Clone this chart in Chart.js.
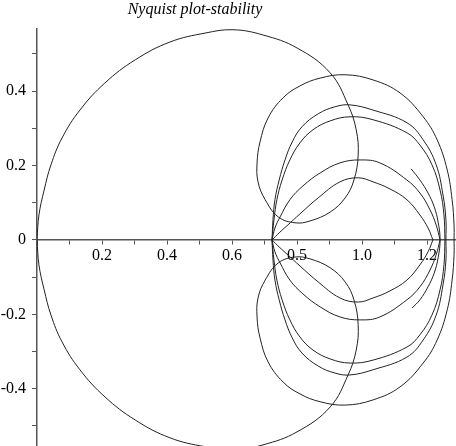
<!DOCTYPE html>
<html>
<head>
<meta charset="utf-8">
<script src="https://cdn.jsdelivr.net/npm/chart.js@4.4.1/dist/chart.umd.min.js"></script>
<style>
  body { margin: 0; background: #fff; }
  canvas { display: block; }
</style>
</head>
<body>
<canvas id="nyquist" width="456" height="446"></canvas>
<script>
const plotTitle = 'Nyquist plot-stability';

// tick labels (the reference prints "0.5" where 0.8 should be)
const xTickValues = [0.2, 0.4, 0.6, 0.8, 1.0, 1.2];
const xTickLabels = ['0.2', '0.4', '0.6', '0.5', '1.0', '1.2'];
const yTickValues = [-0.4, -0.2, 0, 0.2, 0.4];
const yTickLabels = ['-0.4', '-0.2', '0', '0.2', '0.4'];

// big outer loop, runs into the small loop and the outer right circle
const loopX = [0, 0.006, 0.022, 0.043, 0.077, 0.132, 0.209, 0.302, 0.409, 0.517, 0.603, 0.695, 0.800, 0.902, 0.957, 0.982, 0.988, 0.975, 0.948, 0.902, 0.840, 0.794, 0.742, 0.702, 0.680, 0.677, 0.686, 0.711, 0.757, 0.809, 0.871, 0.948, 1.034, 1.117, 1.188, 1.231, 1.262, 1.277, 1.283, 1.283];
const loopUpperY = [0, 0.067, 0.134, 0.202, 0.274, 0.349, 0.422, 0.484, 0.532, 0.556, 0.565, 0.551, 0.516, 0.449, 0.363, 0.296, 0.228, 0.161, 0.113, 0.075, 0.051, 0.046, 0.062, 0.108, 0.156, 0.207, 0.263, 0.328, 0.382, 0.414, 0.435, 0.444, 0.430, 0.395, 0.331, 0.269, 0.188, 0.108, 0.040, 0];
const loopLowerY = [0, -0.067, -0.134, -0.202, -0.274, -0.349, -0.422, -0.484, -0.532, -0.556, -0.565, -0.551, -0.516, -0.449, -0.363, -0.296, -0.228, -0.161, -0.113, -0.075, -0.051, -0.046, -0.062, -0.108, -0.156, -0.207, -0.263, -0.328, -0.382, -0.414, -0.435, -0.444, -0.430, -0.395, -0.331, -0.269, -0.188, -0.108, -0.040, 0];

// second circle
const c2X = [0.723, 0.726, 0.732, 0.745, 0.763, 0.785, 0.815, 0.865, 0.917, 0.963, 1.034, 1.138, 1.188, 1.228, 1.249, 1.258, 1.258];
const c2UpperY = [0, 0.054, 0.108, 0.161, 0.215, 0.263, 0.304, 0.339, 0.358, 0.363, 0.349, 0.315, 0.269, 0.202, 0.121, 0.054, 0];
const c2LowerY = [0, -0.054, -0.108, -0.161, -0.215, -0.263, -0.304, -0.339, -0.358, -0.363, -0.349, -0.315, -0.269, -0.202, -0.121, -0.054, 0];

// third circle
const c3X = [0.723, 0.729, 0.738, 0.754, 0.778, 0.809, 0.849, 0.902, 0.963, 1.034, 1.138, 1.178, 1.215, 1.240, 1.252, 1.255];
const c3UpperY = [0, 0.054, 0.108, 0.161, 0.215, 0.261, 0.296, 0.320, 0.331, 0.323, 0.288, 0.255, 0.202, 0.134, 0.067, 0];
const c3LowerY = [0, -0.054, -0.108, -0.161, -0.215, -0.261, -0.296, -0.320, -0.331, -0.323, -0.288, -0.255, -0.202, -0.134, -0.067, 0];

// flatter arcs
const d1X = [0.723, 0.732, 0.748, 0.778, 0.818, 0.871, 0.932, 0.994, 1.055, 1.138, 1.178, 1.209, 1.228, 1.240];
const d1UpperY = [0, 0.032, 0.062, 0.108, 0.145, 0.180, 0.207, 0.215, 0.207, 0.161, 0.126, 0.081, 0.040, 0];
const d1LowerY = [0, -0.032, -0.062, -0.108, -0.145, -0.180, -0.207, -0.215, -0.207, -0.161, -0.126, -0.081, -0.040, 0];

const d2X = [0.723, 0.745, 0.769, 0.809, 0.865, 0.932, 0.988, 1.034, 1.086, 1.138, 1.178, 1.203, 1.218];
const d2UpperY = [0, 0.019, 0.038, 0.070, 0.113, 0.156, 0.167, 0.156, 0.137, 0.108, 0.067, 0.032, 0];
const d2LowerY = [0, -0.019, -0.038, -0.070, -0.113, -0.156, -0.167, -0.156, -0.137, -0.108, -0.067, -0.032, 0];

// short inner arc near 1.2
const eX = [1.151, 1.178, 1.203, 1.222, 1.234, 1.240, 1.234, 1.222, 1.203, 1.178, 1.154];
const eY = [0.191, 0.161, 0.126, 0.089, 0.048, 0, -0.048, -0.089, -0.126, -0.161, -0.183];

const pts = (xs, ys) => xs.map((x, i) => ({ x: x, y: ys[i] }));

const curves = [
  pts(loopX, loopUpperY), pts(loopX, loopLowerY),
  pts(c2X, c2UpperY), pts(c2X, c2LowerY),
  pts(c3X, c3UpperY), pts(c3X, c3LowerY),
  pts(d1X, d1UpperY), pts(d1X, d1LowerY),
  pts(d2X, d2UpperY), pts(d2X, d2LowerY),
  pts(eX, eY)
];

const fontFamily = '"Liberation Serif", "Times New Roman", serif';
const axisColor = '#555';

const titlePlugin = {
  id: 'plotTitle',
  afterDraw(chart) {
    const ctx = chart.ctx;
    ctx.save();
    ctx.font = 'italic 16px ' + fontFamily;
    ctx.fillStyle = '#000';
    ctx.textAlign = 'center';
    ctx.textBaseline = 'alphabetic';
    ctx.fillText(plotTitle, 195, 14);
    ctx.restore();
  }
};

function labelFor(values, labels, v) {
  const i = values.findIndex(t => Math.abs(t - v) < 1e-6);
  return i < 0 ? '' : labels[i];
}

new Chart(document.getElementById('nyquist').getContext('2d'), {
  type: 'scatter',
  data: {
    datasets: curves.map(c => ({
      data: c,
      showLine: true,
      tension: 0.4,
      borderColor: '#222',
      borderWidth: 1,
      pointRadius: 0,
      pointHoverRadius: 0
    }))
  },
  options: {
    responsive: false,
    devicePixelRatio: 1,
    animation: false,
    layout: { padding: { left: 0, top: 29, right: 0, bottom: 0 } },
    plugins: {
      legend: { display: false },
      tooltip: { enabled: false },
      title: { display: false }
    },
    scales: {
      x: {
        type: 'linear',
        position: { y: 0 },
        min: 0,
        max: 1.289,
        afterFit: s => { s.paddingLeft = 0; s.paddingRight = 0; },
        ticks: {
          stepSize: 0.1,
          includeBounds: false,
          autoSkip: false,
          maxRotation: 0,
          padding: 2,
          color: '#000',
          font: { family: fontFamily, size: 16 },
          callback: v => labelFor(xTickValues, xTickLabels, v)
        },
        grid: { drawOnChartArea: false, drawTicks: true, tickLength: 4, color: axisColor },
        border: { display: true, color: axisColor, width: 1.5 }
      },
      y: {
        type: 'linear',
        position: 'left',
        min: -0.554,
        max: 0.567,
        afterFit: s => { s.width = 37; s.paddingTop = 0; s.paddingBottom = 0; },
        ticks: {
          stepSize: 0.1,
          includeBounds: false,
          autoSkip: false,
          padding: 6,
          color: '#000',
          font: { family: fontFamily, size: 16 },
          callback: v => labelFor(yTickValues, yTickLabels, v)
        },
        grid: { drawOnChartArea: false, drawTicks: true, tickLength: 5, color: axisColor },
        border: { display: true, color: axisColor, width: 1.5 }
      }
    }
  },
  plugins: [titlePlugin]
});
</script>
</body>
</html>
